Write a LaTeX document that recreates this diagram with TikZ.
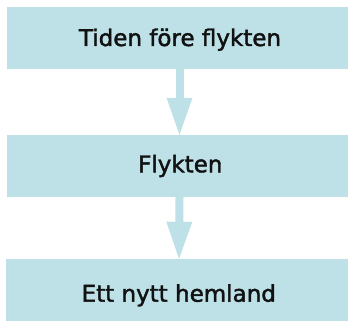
\documentclass[tikz,border=0pt]{standalone}
\usepackage{fontspec}
\newfontfamily\stagefont{DejaVu Sans}[FakeBold=1.8]
\usetikzlibrary{arrows.meta}
\definecolor{boxblue}{RGB}{190,225,232}
\definecolor{inkblack}{RGB}{17,17,17}
\begin{document}
\begin{tikzpicture}[x=1pt,y=1pt,
  stage/.style={fill=boxblue, draw=none, minimum width=341pt, minimum height=62pt, inner sep=0pt},
  stagetext/.style={anchor=base, inner sep=0pt, text=inkblack, font=\stagefont\fontsize{23}{27}\selectfont},
  flow/.style={draw=boxblue, line width=8pt, line cap=butt,
    -{Triangle[width=26pt,length=37pt,line width=0pt]}}]
\useasboundingbox (0,0) rectangle (348,321);
\node[stage] (a) at (177.5,283) {};
\node[stage] (b) at (177.5,155) {};
\node[stage, minimum width=342pt] (c) at (177,31) {};
\node[stagetext] (ta) at (180,275) {Tiden före flykten};
\node[stagetext] (tb) at (180.3,148.7) {Flykten};
\node[stagetext] (tc) at (178.8,19.3) {Ett nytt hemland};
\draw[flow] ([xshift=2pt]a.south) -- ([xshift=2pt]b.north);
\draw[flow] ([xshift=2pt]b.south) -- ([xshift=2pt]c.north);
\end{tikzpicture}
\end{document}
